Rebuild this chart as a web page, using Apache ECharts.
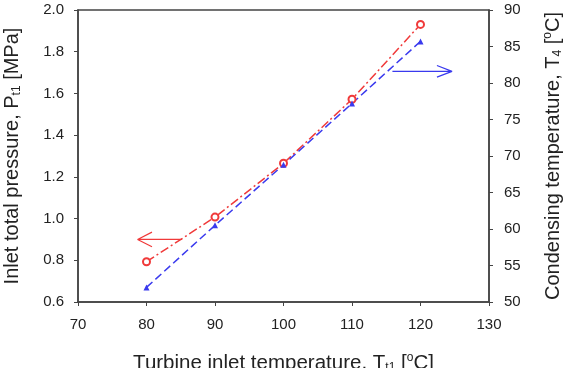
<!DOCTYPE html>
<html>
<head>
  <meta charset="utf-8" />
  <title>Inlet pressure and condensing temperature</title>
  <script src="https://cdn.jsdelivr.net/npm/echarts@6/dist/echarts.min.js"></script>
</head>
<body style="margin:0">
  <div id="chart" style="width:570px;height:368px;"></div>
  <script type="text/javascript">
    // Data
    let inletTemp = [80, 90, 100, 110, 120];
    let pressure = [0.793, 1.007, 1.265, 1.572, 1.931];
    let condensingTemp = [52.0, 60.5, 68.8, 77.2, 85.7];

    // Arrow annotations (data coordinates): start, tip, arm, tip, arm
    let pressureArrow = [[85.2, 0.9], [78.7, 0.9], [80.8, 0.935], [78.7, 0.9], [80.8, 0.865]];
    let tempArrow = [[115.9, 81.6], [124.6, 81.6], [122.4, 82.4], [124.6, 81.6], [122.4, 80.8]];

    var chart = echarts.init(document.getElementById('chart'));
    var font = 'Liberation Sans, Arial, sans-serif';

    var option = {
      animation: false,
      textStyle: { fontFamily: font },
      grid: {
        left: 78, right: 81, top: 10, bottom: 66,
        outerBoundsMode: 'none',
        containLabel: false,
        show: true, borderColor: '#444', borderWidth: 1.5
      },
      xAxis: {
        type: 'value',
        min: 70, max: 130, interval: 10,
        splitLine: { show: false },
        axisLine: { lineStyle: { color: '#444', width: 1.5 } },
        axisTick: { length: 4, lineStyle: { color: '#444' } },
        axisLabel: { color: '#222', fontSize: 15, margin: 15 },
        name: 'Turbine inlet temperature, T{sub|t1} [{sup|o}C]',
        nameLocation: 'middle',
        nameGap: 50,
        nameTextStyle: {
          color: '#222', fontSize: 20.5,
          rich: {
            sub: { fontSize: 12, padding: [10, 0, 0, 0], color: '#222' },
            sup: { fontSize: 12, padding: [0, 0, 10, 0], color: '#222' }
          }
        }
      },
      yAxis: [
        {
          type: 'value',
          min: 0.6, max: 2.0, interval: 0.2,
          splitLine: { show: false },
          axisLine: { show: true, lineStyle: { color: '#444', width: 1.5 } },
          axisTick: { show: true, length: 4, lineStyle: { color: '#444' } },
          axisLabel: { color: '#222', fontSize: 15, margin: 14, formatter: v => v.toFixed(1) },
          name: 'Inlet total pressure, P{sub|t1} [MPa]',
          nameLocation: 'middle',
          nameGap: 55,
          nameTextStyle: {
            color: '#222', fontSize: 20,
            rich: { sub: { fontSize: 12, padding: [10, 0, 0, 0], color: '#222' } }
          }
        },
        {
          type: 'value',
          min: 50, max: 90, interval: 5,
          position: 'right',
          splitLine: { show: false },
          axisLine: { show: true, lineStyle: { color: '#444', width: 1.5 } },
          axisTick: { show: true, length: 4, lineStyle: { color: '#444' } },
          axisLabel: { color: '#222', fontSize: 15, margin: 15 },
          name: 'Condensing temperature, T{sub|4} [{sup|o}C]',
          nameLocation: 'middle',
          nameGap: 53,
          nameRotate: 90,
          nameTextStyle: {
            color: '#222', fontSize: 20,
            rich: {
              sub: { fontSize: 12, padding: [10, 0, 0, 0], color: '#222' },
              sup: { fontSize: 12, padding: [0, 0, 10, 0], color: '#222' }
            }
          }
        }
      ],
      series: [
        {
          name: 'Inlet total pressure',
          type: 'line',
          yAxisIndex: 0,
          data: inletTemp.map((x, i) => [x, pressure[i]]),
          symbol: 'emptyCircle',
          symbolSize: 7,
          color: '#f03a3a',
          lineStyle: { width: 1.5, type: [9, 3, 2, 3] },
          itemStyle: { borderWidth: 1.2 }
        },
        {
          name: 'Condensing temperature',
          type: 'line',
          yAxisIndex: 1,
          data: inletTemp.map((x, i) => [x, condensingTemp[i]]),
          symbol: 'triangle',
          symbolSize: 6,
          color: '#3a3aee',
          lineStyle: { width: 1.5, type: [8, 4] }
        },
        {
          type: 'line',
          yAxisIndex: 0,
          data: pressureArrow,
          symbol: 'none',
          color: '#f03a3a',
          lineStyle: { width: 1.2 },
          silent: true
        },
        {
          type: 'line',
          yAxisIndex: 1,
          data: tempArrow,
          symbol: 'none',
          color: '#3a3aee',
          lineStyle: { width: 1.2 },
          silent: true
        }
      ]
    };

    chart.setOption(option);
  </script>
</body>
</html>
